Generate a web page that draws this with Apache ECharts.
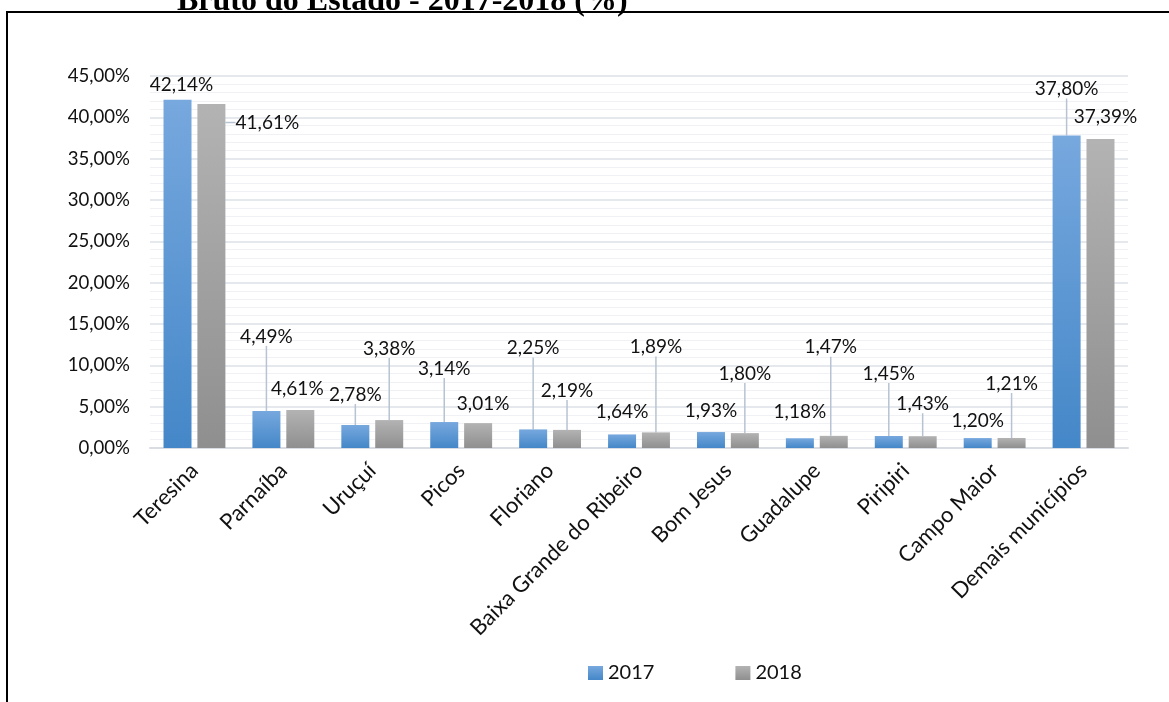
<!DOCTYPE html>
<html>
<head>
<meta charset="utf-8">
<script src="https://cdn.jsdelivr.net/npm/echarts@6/dist/echarts.min.js"></script>
<style>
  html, body { margin: 0; padding: 0; background: #fff; }
  #chart { width: 1169px; height: 702px; }
</style>
</head>
<body>
<div id="chart"></div>
<script>
// municípios
const categories = ['Teresina', 'Parnaíba', 'Uruçuí', 'Picos', 'Floriano', 'Baixa Grande do Ribeiro',
  'Bom Jesus', 'Guadalupe', 'Piripiri', 'Campo Maior', 'Demais municípios'];
// participação no PIB (%)
const values2017 = [42.14, 4.49, 2.78, 3.14, 2.25, 1.64, 1.93, 1.18, 1.45, 1.20, 37.80];
const values2018 = [41.61, 4.61, 3.38, 3.01, 2.19, 1.89, 1.80, 1.47, 1.43, 1.21, 37.39];
const yTicks = [0, 5, 10, 15, 20, 25, 30, 35, 40, 45];

// deslocamento dos rótulos (estilo callout do Excel) [dx, dy]
const shift2017 = [[4, 0], [0, -60], [0, -16], [0, -39], [0, -67], [0, -8], [0, -7], [0, -12], [0, -48], [0, -3], [0, -32]];
const shift2018 = [[56, 33], [-3, -7], [0, -57], [5, -5], [0, -25], [0, -71], [0, -45], [-3, -74], [0, -18], [0, -40], [5, -8]];

const fmt = v => v.toFixed(2).replace('.', ',') + '%';
const font = 'Lato';

const grad = (a, b) => new echarts.graphic.LinearGradient(0, 0, 0, 1, [
  { offset: 0, color: a }, { offset: 1, color: b }
]);

function makeData(vals, shifts) {
  return vals.map((v, i) => ({
    value: v,
    labelLine: { show: Math.abs(shifts[i][1]) > 12 || Math.abs(shifts[i][0]) > 20 }
  }));
}

function makeSeries(name, vals, shifts, c1, c2) {
  return {
    name: name,
    type: 'bar',
    barWidth: 28,
    barGap: '21%',
    data: makeData(vals, shifts),
    itemStyle: { color: grad(c1, c2) },
    label: {
      show: true,
      position: 'top',
      distance: 5,
      fontFamily: font,
      fontSize: 19,
      color: '#111',
      formatter: p => fmt(p.value)
    },
    labelLine: { show: true, length2: 8, lineStyle: { color: '#b7c3d3', width: 1.5 } },
    labelLayout: p => ({ dx: shifts[p.dataIndex][0], dy: shifts[p.dataIndex][1] })
  };
}

const chart = echarts.init(document.getElementById('chart'));
chart.setOption({
  animation: false,
  backgroundColor: '#fff',
  graphic: [
    {
      type: 'rect',
      shape: { x: 7, y: 12, width: 1300, height: 900 },
      style: { fill: 'none', stroke: '#000', lineWidth: 2 },
      silent: true
    },
    {
      type: 'text',
      x: 177, y: 2,
      style: {
        text: 'Bruto do Estado - 2017-2018 (%)',
        font: 'bold 32px "Liberation Serif"',
        fill: '#000',
        verticalAlign: 'middle'
      }
    }
  ],
  legend: {
    left: 583,
    top: 658,
    itemWidth: 15,
    itemHeight: 14,
    itemGap: 81,
    icon: 'rect',
    textStyle: { fontFamily: font, fontSize: 20, color: '#111' },
    data: ['2017', '2018']
  },
  grid: { left: 150, right: 41, top: 76, bottom: 254 },
  xAxis: {
    type: 'category',
    data: categories,
    axisLine: { lineStyle: { color: '#d9dde3', width: 2 } },
    axisTick: { show: false },
    axisLabel: { interval: 0, rotate: 45, margin: 19, fontFamily: font, fontSize: 22, color: '#111' }
  },
  yAxis: {
    type: 'value',
    min: yTicks[0],
    max: yTicks[yTicks.length - 1],
    interval: 5,
    axisLine: { show: false },
    axisTick: { show: false },
    axisLabel: { margin: 20, fontFamily: font, fontSize: 18.6, color: '#111', formatter: v => fmt(v) },
    splitLine: { lineStyle: { color: '#dde1e7', width: 1.5 } },
    minorTick: { show: false, splitNumber: 5 },
    minorSplitLine: { show: true, lineStyle: { color: '#eff1f4', width: 1 } }
  },
  series: [
    makeSeries('2017', values2017, shift2017, '#77a8de', '#4487c8'),
    makeSeries('2018', values2018, shift2018, '#b3b3b3', '#8f8f8f')
  ]
});
</script>
</body>
</html>
